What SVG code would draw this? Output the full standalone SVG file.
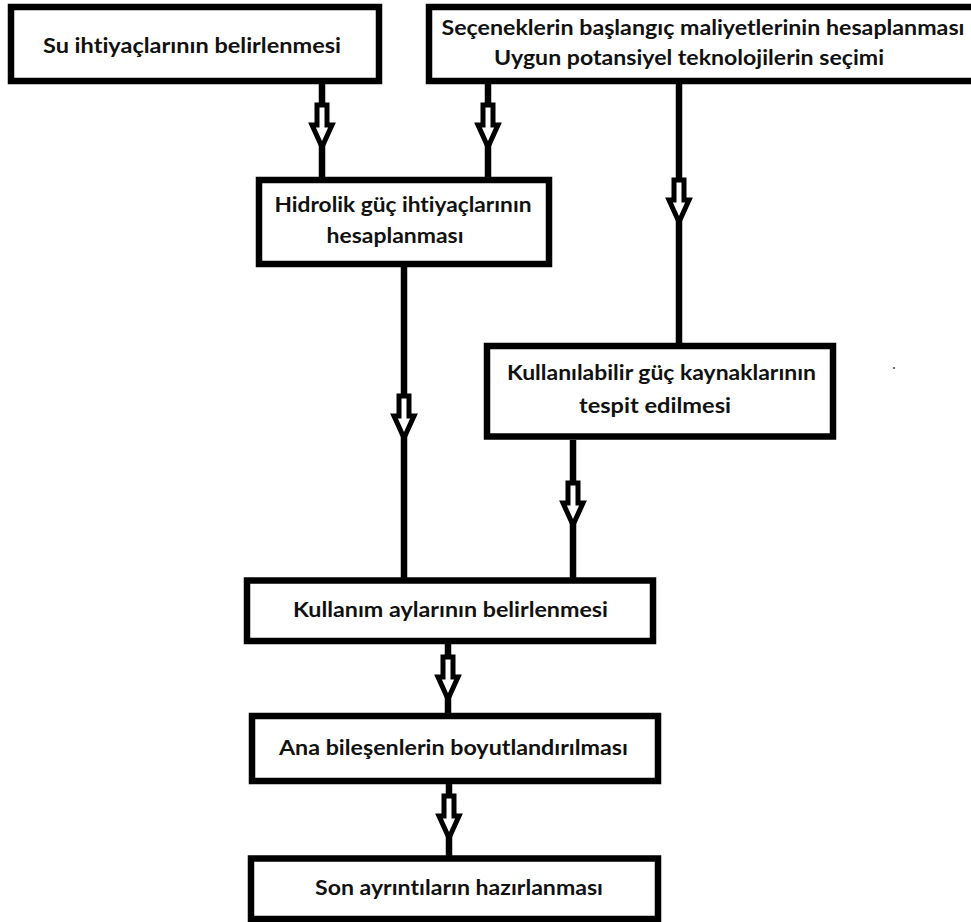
<svg xmlns="http://www.w3.org/2000/svg" width="971" height="922" viewBox="0 0 971 922">
<style>
.box{fill:#fff;stroke:#000;stroke-width:6.5}
.ln{stroke:#000;stroke-width:6.5;fill:none}
.t{font-family:Lato,"Liberation Sans",sans-serif;font-weight:700;font-size:21px;fill:#111;text-anchor:middle;font-variant-ligatures:none}
</style>
<defs>
<polygon id="arr" points="-5,2 5,2 5,22 10,22 0,44 -10,22 -5,22" fill="#fff" stroke="#000" stroke-width="5" stroke-linejoin="miter"/>
</defs>
<rect width="971" height="922" fill="#fff"/>
<g id="connectors">
<line class="ln" x1="322" y1="84" x2="322" y2="178"/>
<line class="ln" x1="488" y1="84" x2="488" y2="178"/>
<line class="ln" x1="679" y1="84" x2="679" y2="344"/>
<line class="ln" x1="404" y1="266" x2="404" y2="578"/>
<line class="ln" x1="573" y1="440" x2="573" y2="578"/>
<line class="ln" x1="448" y1="644" x2="448" y2="713"/>
<line class="ln" x1="449" y1="784" x2="449" y2="856"/>
<use href="#arr" x="322" y="103"/>
<use href="#arr" x="488" y="103"/>
<use href="#arr" x="679" y="178"/>
<use href="#arr" x="404" y="394"/>
<use href="#arr" x="573" y="481"/>
<use href="#arr" x="448" y="655"/>
<use href="#arr" x="449" y="794"/>
</g>
<g id="n1">
<rect class="box" x="11" y="7" width="368" height="74"/>
<text class="t" x="192" y="53" textLength="298" lengthAdjust="spacingAndGlyphs">Su ihtiyaçlarının belirlenmesi</text>
</g>
<g id="n2">
<rect class="box" x="429" y="7" width="560" height="74"/>
<text class="t" x="703" y="35" textLength="523" lengthAdjust="spacingAndGlyphs">Seçeneklerin başlangıç maliyetlerinin hesaplanması</text>
<text class="t" x="689" y="65" textLength="390" lengthAdjust="spacingAndGlyphs">Uygun potansiyel teknolojilerin seçimi</text>
</g>
<g id="n3">
<rect class="box" x="259" y="180" width="290" height="84"/>
<text class="t" x="403" y="212" textLength="257" lengthAdjust="spacingAndGlyphs">Hidrolik güç ihtiyaçlarının</text>
<text class="t" x="395" y="243" textLength="137" lengthAdjust="spacingAndGlyphs">hesaplanması</text>
</g>
<g id="n4">
<rect class="box" x="487" y="346" width="346" height="90.5"/>
<text class="t" x="661.5" y="380" textLength="309" lengthAdjust="spacingAndGlyphs">Kullanılabilir güç kaynaklarının</text>
<text class="t" x="655" y="413" textLength="152" lengthAdjust="spacingAndGlyphs">tespit edilmesi</text>
</g>
<g id="n5">
<rect class="box" x="247" y="580.5" width="406" height="60.5"/>
<text class="t" x="450.5" y="617" textLength="315" lengthAdjust="spacingAndGlyphs">Kullanım aylarının belirlenmesi</text>
</g>
<g id="n6">
<rect class="box" x="252" y="716" width="406" height="65"/>
<text class="t" x="453.5" y="755" textLength="349" lengthAdjust="spacingAndGlyphs">Ana bileşenlerin boyutlandırılması</text>
</g>
<g id="n7">
<rect class="box" x="251" y="858.5" width="407" height="60.5"/>
<text class="t" x="459" y="895" textLength="288" lengthAdjust="spacingAndGlyphs">Son ayrıntıların hazırlanması</text>
</g>
<rect x="893" y="367" width="2" height="2" fill="#666"/>
</svg>
